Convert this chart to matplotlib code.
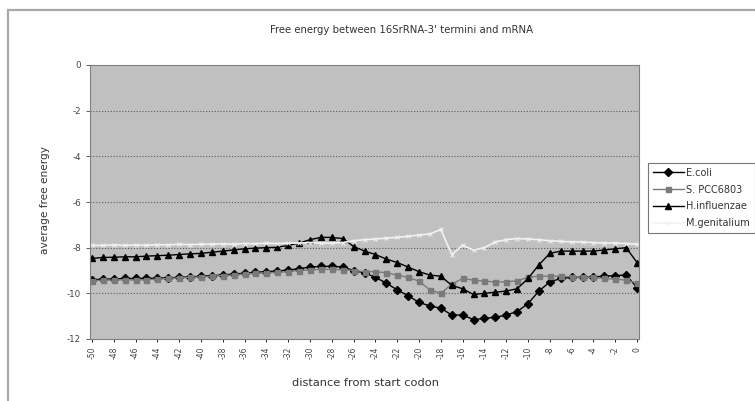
import matplotlib
matplotlib.use("Agg")
import matplotlib.pyplot as plt
from matplotlib.patches import Rectangle
import numpy as np

distance = list(range(-50, 1))
tick_labels = [str(d) for d in range(-50, 1, 2)]

e_coli = [-9.40, -9.38, -9.37, -9.35, -9.35, -9.35, -9.33, -9.32, -9.30, -9.28,
          -9.25, -9.22, -9.20, -9.15, -9.12, -9.08, -9.05, -9.02, -8.98, -8.92,
          -8.85, -8.82, -8.82, -8.85, -9.00, -9.10, -9.30, -9.55, -9.85, -10.10,
          -10.40, -10.55, -10.65, -10.95, -10.95, -11.15, -11.10, -11.05, -10.95, -10.80,
          -10.45, -9.90, -9.50, -9.35, -9.30, -9.30, -9.28, -9.25, -9.22, -9.20,
          -9.75]
s_pcc6803 = [-9.45, -9.42, -9.42, -9.40, -9.42, -9.40, -9.38, -9.35, -9.32, -9.30,
             -9.28, -9.25, -9.22, -9.20, -9.15, -9.12, -9.10, -9.08, -9.05, -9.00,
             -8.98, -8.95, -8.95, -8.97, -9.00, -9.05, -9.05, -9.10, -9.20, -9.30,
             -9.47, -9.85, -10.00, -9.60, -9.35, -9.42, -9.47, -9.50, -9.50, -9.45,
             -9.30, -9.25, -9.25, -9.25, -9.28, -9.30, -9.30, -9.35, -9.38, -9.42,
             -9.55]
h_influenzae = [-8.47, -8.43, -8.42, -8.40, -8.40, -8.37, -8.35, -8.33, -8.30, -8.27,
                -8.25, -8.20, -8.15, -8.10, -8.05, -8.02, -8.00, -7.98, -7.90, -7.80,
                -7.65, -7.55, -7.55, -7.60, -7.95, -8.15, -8.30, -8.50, -8.65, -8.85,
                -9.05, -9.20, -9.25, -9.65, -9.80, -10.05, -10.00, -9.95, -9.90, -9.80,
                -9.35, -8.75, -8.25, -8.15, -8.15, -8.15, -8.15, -8.10, -8.05, -8.00,
                -8.65]
m_genitalium = [-7.90, -7.90, -7.88, -7.90, -7.88, -7.90, -7.87, -7.88, -7.85, -7.87,
                -7.85, -7.85, -7.83, -7.85, -7.82, -7.83, -7.80, -7.82, -7.80, -7.80,
                -7.78, -7.80, -7.80, -7.78, -7.70, -7.65, -7.62, -7.58, -7.55, -7.50,
                -7.45, -7.40, -7.20, -8.30, -7.90, -8.10, -8.00, -7.75, -7.65, -7.60,
                -7.62, -7.65, -7.70, -7.72, -7.75, -7.75, -7.78, -7.80, -7.80, -7.82,
                -7.85]

W, H = 755, 401
fig = plt.figure(figsize=(W / 100, H / 100), dpi=100)
fig.patch.set_facecolor("white")

# chart-area border (top and left visible)
fig.patches.append(Rectangle((8 / W, -0.1), 1.2, (H - 10) / H + 0.1,
                             transform=fig.transFigure, fill=False,
                             edgecolor="#a8a8a8", linewidth=1.6))

ax = fig.add_axes([90 / W, 1 - 339 / H, (639 - 90) / W, (339 - 65) / H])
ax.set_facecolor("#c0c0c0")

ax.plot(distance, e_coli, color="black", marker="D", markersize=3.6, linewidth=1.0, label="E.coli")
ax.plot(distance, s_pcc6803, color="#7a7a7a", marker="s", markersize=3.6, linewidth=1.0, label="S. PCC6803")
ax.plot(distance, h_influenzae, color="black", marker="^", markersize=4.0, linewidth=1.0, label="H.influenzae")
ax.plot(distance, m_genitalium, color="#f2f2f2", marker="x", markersize=2.5, markeredgewidth=0.7,
        linewidth=1.2, label="M.genitalium")

ax.set_xlim(-50.18, 0.18)
ax.set_ylim(-12, 0)
ax.set_yticks(range(-12, 1, 2))
ax.set_yticklabels([str(v) for v in range(-12, 1, 2)])
for yv in range(-10, 0, 2):
    ax.axhline(yv, color="#5a5a5a", linestyle=(0, (1, 1.6)), linewidth=0.8, zorder=0.5)

ax.set_xticks(range(-50, 1, 2))
ax.set_xticklabels(tick_labels, rotation=90, fontsize=5.5, color="#444444")
ax.tick_params(axis="y", labelsize=6.3, colors="#444444", length=3, width=0.6)
ax.tick_params(axis="x", length=2.5, width=0.6, pad=3)
for sp in ax.spines.values():
    sp.set_color("#808080")
    sp.set_linewidth(0.8)

fig.text(402 / W, 1 - 30 / H, "Free energy between 16SrRNA-3' termini and mRNA",
         ha="center", va="center", fontsize=7.3, color="#333333")
fig.text(365 / W, 1 - 383 / H, "distance from start codon",
         ha="center", va="center", fontsize=8.2, color="#333333")
fig.text(45 / W, 1 - 200 / H, "average free energy", rotation=90,
         ha="center", va="center", fontsize=7.6, color="#333333")

leg = ax.legend(loc="upper left", bbox_to_anchor=(648 / W, 1 - 163 / H),
                bbox_transform=fig.transFigure, fontsize=7, frameon=True,
                fancybox=False, borderaxespad=0, handlelength=3.2,
                handletextpad=0.25, labelspacing=0.7, borderpad=0.5)
leg.get_frame().set_edgecolor("#555555")
leg.get_frame().set_linewidth(0.8)
leg.get_frame().set_facecolor("white")
for t in leg.get_texts():
    t.set_color("#333333")

fig.savefig("out.png", dpi=100)
